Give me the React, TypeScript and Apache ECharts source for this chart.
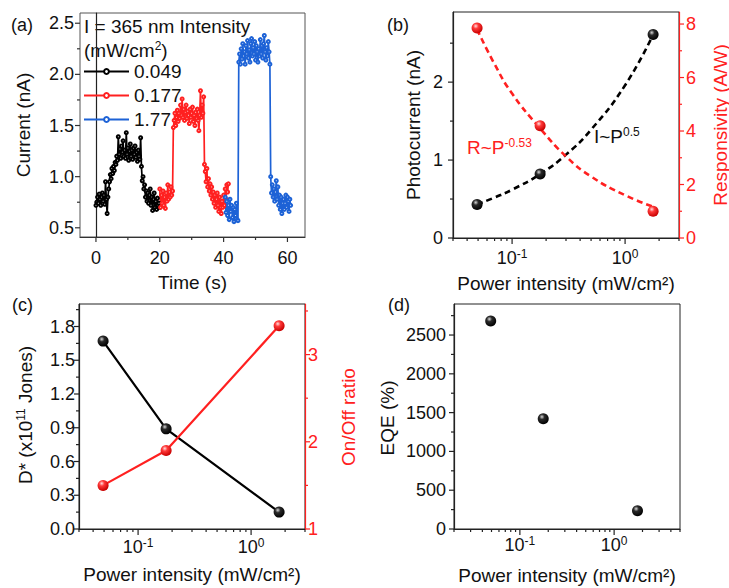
import React, { useEffect, useRef } from 'react';
import * as echarts from 'echarts';

const FONT = 'Liberation Sans, Arial, Helvetica, sans-serif';
const INK = '#111111';
const RED = '#ff2020';
const BLUE = '#1d62d6';

// (a) time traces, sampled every 0.25 s
const sampleStep = 0.25;
const blackStart = 0;
const blackCurrent = [
  0.72, 0.75, 0.80, 0.74, 0.83,
  0.78, 0.72, 0.80, 0.84,
  0.76, 0.82, 0.73, 0.95,
  0.78, 0.64, 0.80, 0.88,
  0.95, 1.02, 0.98, 1.08,
  1.03, 1.10, 1.06, 1.14,
  1.12, 1.20, 1.16, 1.39,
  1.22, 1.27, 1.18, 1.30,
  1.24, 1.35, 1.20, 1.26,
  1.18, 1.43, 1.22, 1.28,
  1.16, 1.25, 1.32, 1.20,
  1.26, 1.17, 1.28, 1.22,
  1.30, 1.19, 1.24, 1.15,
  1.26, 1.20, 1.17, 1.38,
  1.10, 0.96, 1.00, 0.88,
  0.92, 0.80, 0.86, 0.76,
  0.84, 0.74, 0.82, 0.88,
  0.72, 0.80, 0.67, 0.78,
  0.84, 0.70, 0.76, 0.68,
  0.79, 0.72, 0.74, 0.70,
];
const redStart = 20;
const redCurrent = [
  0.88, 0.70, 0.82, 0.74, 0.86,
  0.72, 0.80, 0.69, 0.84,
  0.76, 0.92, 0.78, 0.85,
  0.80, 0.90, 0.82, 0.86,
  1.48, 1.55, 1.62, 1.50,
  1.58, 1.65, 1.54, 1.62,
  1.57, 1.70, 1.60, 1.76,
  1.58, 1.66, 1.55, 1.63,
  1.70, 1.57, 1.64, 1.60,
  1.52, 1.66, 1.58, 1.62,
  1.68, 1.54, 1.60, 1.50,
  1.63, 1.57, 1.66, 1.55,
  1.45, 1.60, 1.84, 1.58,
  1.70, 1.62, 1.78, 1.12,
  1.05, 0.95, 1.08, 0.90,
  0.98, 0.86, 0.93, 0.82,
  0.90, 0.78, 0.85, 0.74,
  0.82, 0.70, 0.78, 0.84,
  0.72, 0.66, 0.80, 0.70,
  0.64, 0.76, 0.70, 0.82,
  0.72, 0.88, 0.78, 0.92,
  0.85, 0.93,
];
const blueStart = 40.5;
const blueCurrent = [
  0.80, 0.65, 0.76, 0.62, 0.72,
  0.58, 0.78, 0.66, 0.72,
  0.60, 0.70, 0.56, 0.68,
  0.62, 0.74, 0.58, 0.57,
  2.12, 2.20, 2.10, 2.25,
  2.15, 2.30, 2.18, 2.22,
  2.10, 2.28, 2.20, 2.33,
  2.16, 2.24, 2.12, 2.30,
  2.35, 2.18, 2.26, 2.20,
  2.32, 2.14, 2.28, 2.22,
  2.12, 2.25, 2.18, 2.34,
  2.20, 2.28, 2.16, 2.30,
  2.38, 2.22, 2.14, 2.26,
  2.18, 2.32, 2.22, 2.10,
  1.00, 0.84, 0.92, 0.80,
  0.88, 0.76, 0.85, 0.96,
  0.78, 0.90, 0.72, 0.82,
  0.68, 0.80, 0.64, 0.74,
  0.78, 0.68, 0.74, 0.82,
  0.70, 0.80, 0.76, 0.66,
  0.78, 0.72,
];
const legendNames = ['0.049', '0.177', '1.77'];

// (b)-(d)
const power = [0.049, 0.177, 1.77];
const photocurrent = [0.43, 0.82, 2.61];
const responsivity = [7.85, 4.2, 1.0];
const fitPower = [0.049, 0.07, 0.1, 0.177, 0.3, 0.5, 1.0, 1.77];
const fitCurrent = [0.43, 0.52, 0.62, 0.82, 1.07, 1.39, 1.96, 2.61];
const fitResponsivity = [7.8, 6.5, 5.4, 4.1, 3.05, 2.3, 1.6, 1.17];
const detectivity = [1.67, 0.89, 0.15];
const onOffRatio = [1.5, 1.9, 3.33];
const eqe = [2680, 1420, 235];

// tick positions
const timeMajor = [0, 20, 40, 60];
const timeMinor = [10, 30, 50];
const currentMajor = [0.5, 1, 1.5, 2, 2.5];
const currentMinor = [0.75, 1.25, 1.75, 2.25];
const logMajor = [0.1, 1];
const logMinorBC = [0.03, 0.04, 0.05, 0.06, 0.07, 0.08, 0.09, 0.2, 0.3, 0.4, 0.5, 0.6, 0.7, 0.8, 0.9, 2, 3];
const logMinorD = [0.02, 0.03, 0.04, 0.05, 0.06, 0.07, 0.08, 0.09, 0.2, 0.3, 0.4, 0.5, 0.6, 0.7, 0.8, 0.9, 2, 3, 4, 5];
const photoMajor = [0, 1, 2];
const photoMinor = [0.5, 1.5, 2.5];
const respMajor = [0, 2, 4, 6, 8];
const respMinor = [1, 3, 5, 7];
const detMajor = [0, 0.3, 0.6, 0.9, 1.2, 1.5, 1.8];
const detMinor = [0.15, 0.45, 0.75, 1.05, 1.35, 1.65, 1.95];
const ratioMajor = [1, 2, 3];
const ratioMinor = [1.5, 2.5, 3.5];
const eqeMajor = [0, 500, 1000, 1500, 2000, 2500];
const eqeMinor = [250, 750, 1250, 1750, 2250, 2750];

// rich-text styles
const richFor = (color: string, size: number) => ({
  n: { fontSize: size, fontFamily: FONT, fill: color },
  sup: { fontSize: 12, fontFamily: FONT, fill: color, padding: [0, 0, 9, 0] },
});

type Side = 'bottom' | 'left' | 'right';
function tickSeries(xi: number, yi: number, side: Side, major: number[], minor: number[], color: string, majorLen = 5) {
  const mk = (v: number, len: number) => (side === 'bottom' ? [v, 1, len] : [1, v, len]);
  const data = [...major.map((v) => mk(v, majorLen)), ...minor.map((v) => mk(v, 3))];
  return {
    type: 'custom',
    xAxisIndex: xi,
    yAxisIndex: yi,
    silent: true,
    clip: false,
    z: 10,
    encode: { x: 0, y: 1 },
    data,
    renderItem: (params: any, api: any) => {
      const cs = params.coordSys;
      const p = api.coord([api.value(0), api.value(1)]);
      const len = api.value(2);
      let shape;
      if (side === 'bottom') {
        const y = cs.y + cs.height;
        shape = { x1: p[0], y1: y, x2: p[0], y2: y + len };
      } else if (side === 'left') {
        shape = { x1: cs.x, y1: p[1], x2: cs.x - len, y2: p[1] };
      } else {
        const x = cs.x + cs.width;
        shape = { x1: x, y1: p[1], x2: x + len, y2: p[1] };
      }
      return { type: 'line', shape, style: { stroke: color, lineWidth: 1.2 } };
    },
  };
}

// power-of-ten labels under a log axis, placed through the axis scale
function logLabelSeries(xi: number, yi: number, values: number[], offset: number) {
  return {
    type: 'custom',
    xAxisIndex: xi,
    yAxisIndex: yi,
    silent: true,
    clip: false,
    z: 10,
    encode: { x: 0, y: 1 },
    data: values.map((v) => [v, 1]),
    renderItem: (params: any, api: any) => {
      const cs = params.coordSys;
      const v = api.value(0);
      const p = api.coord([v, api.value(1)]);
      const exp = Math.round(Math.log10(v));
      return {
        type: 'text',
        x: p[0],
        y: cs.y + cs.height + offset,
        style: {
          text: `{n|10}{sup|${exp}}`,
          rich: richFor(INK, 18),
          fontSize: 18,
          fontFamily: FONT,
          fill: INK,
          align: 'center',
          verticalAlign: 'middle',
        },
      };
    },
  };
}

const isMultiple = (v: number, step: number) => Math.abs(v / step - Math.round(v / step)) < 1e-6;

const sphere = (hi: string, mid: string, edge: string) => ({
  type: 'radial',
  x: 0.38,
  y: 0.32,
  r: 0.68,
  colorStops: [
    { offset: 0, color: hi },
    { offset: 0.35, color: mid },
    { offset: 1, color: edge },
  ],
});
const blackBall = sphere('#d8d8d8', '#2a2a2a', '#000000');
const redBall = sphere('#ffe0e0', '#ff3a3a', '#c80000');

function xAxisLinear(grid: number) {
  return {
    gridIndex: grid,
    type: 'value',
    min: -5,
    max: 65.5,
    splitNumber: 3,
    axisLine: { lineStyle: { color: '#333', width: 1.2 } },
    axisTick: { show: false },
    splitLine: { show: false },
    axisLabel: {
      fontSize: 18,
      color: INK,
      fontFamily: FONT,
      margin: 12,
      formatter: (v: number) => (isMultiple(v, 20) && v >= 0 && v <= 60 ? String(v) : ''),
    },
    name: 'Time (s)',
    nameLocation: 'middle',
    nameGap: 36,
    nameTextStyle: { fontSize: 19, color: INK, fontFamily: FONT },
  };
}

function xAxisLog(grid: number, min: number, max: number, nameGap: number) {
  return {
    gridIndex: grid,
    type: 'log',
    logBase: 10,
    min,
    max,
    axisLine: { lineStyle: { color: '#222', width: 1.2 } },
    axisTick: { show: false },
    splitLine: { show: false },
    minorSplitLine: { show: false },
    axisLabel: { show: false },
    name: 'Power intensity (mW/cm²)',
    nameLocation: 'middle',
    nameGap,
    nameTextStyle: { fontSize: 19, color: INK, fontFamily: FONT },
  };
}

function yAxis(opts: any) {
  const color = opts.color || '#222';
  const textColor = opts.color || INK;
  return {
    gridIndex: opts.grid,
    type: 'value',
    position: opts.position || 'left',
    min: opts.min,
    max: opts.max,
    interval: opts.interval,
    axisLine: { show: true, lineStyle: { color, width: 1.2 } },
    axisTick: { show: false },
    splitLine: { show: false },
    axisLabel: {
      fontSize: 18,
      color: textColor,
      fontFamily: FONT,
      margin: opts.margin,
      formatter: opts.formatter,
    },
  };
}

function trace(name: string, start: number, values: number[], color: string) {
  return {
    name,
    type: 'line',
    xAxisIndex: 0,
    yAxisIndex: 0,
    data: values.map((v, i) => [start + i * sampleStep, v]),
    symbol: 'emptyCircle',
    symbolSize: 3,
    showSymbol: true,
    itemStyle: { color, borderWidth: 1.1 },
    lineStyle: { color, width: 1.7 },
    z: 3,
  };
}

const gtext = (x: number, y: number, text: string, color: string, size = 19, rotated = false) => ({
  type: 'text',
  x,
  y,
  rotation: rotated ? Math.PI / 2 : 0,
  style: {
    text,
    fontSize: size,
    fontFamily: FONT,
    fill: color,
    align: rotated ? 'center' : 'left',
    verticalAlign: 'middle',
    rich: richFor(color, size),
  },
});

export default function App() {
  const ref = useRef<HTMLDivElement>(null);
  useEffect(() => {
    if (!ref.current) return;
    const chart = echarts.init(ref.current, undefined, { renderer: 'svg' });
    const option: any = {
      animation: false,
      backgroundColor: '#ffffff',
      textStyle: { fontFamily: FONT },
      grid: [
        { left: 80, top: 13, width: 225, height: 224, show: true, borderColor: '#555', borderWidth: 1 },
        { left: 453, top: 12, width: 226, height: 226, show: true, borderColor: '#222', borderWidth: 1 },
        { left: 79, top: 304, width: 226, height: 225, show: true, borderColor: '#222', borderWidth: 1 },
        { left: 454, top: 304, width: 226, height: 225, show: true, borderColor: '#222', borderWidth: 1 },
      ],
      xAxis: [
        xAxisLinear(0),
        xAxisLog(1, 0.03, 3, 36),
        xAxisLog(2, 0.03, 3, 36),
        xAxisLog(3, 0.02, 5, 37),
      ],
      yAxis: [
        yAxis({ grid: 0, min: 0.41, max: 2.6, margin: 6,
          formatter: (v: number) => (isMultiple(v, 0.5) ? v.toFixed(1) : '') }),
        yAxis({ grid: 1, min: 0, max: 2.9, interval: 1, margin: 10,
          formatter: (v: number) => (isMultiple(v, 1) && v <= 2 ? String(v) : '') }),
        yAxis({ grid: 1, position: 'right', color: RED, min: 0, max: 8.45, interval: 2, margin: 7,
          formatter: (v: number) => (isMultiple(v, 2) && v <= 8 ? String(v) : '') }),
        yAxis({ grid: 2, min: 0, max: 2.0, interval: 0.3, margin: 4,
          formatter: (v: number) => (isMultiple(v, 0.3) && v <= 1.85 ? v.toFixed(1) : '') }),
        yAxis({ grid: 2, position: 'right', color: RED, min: 1, max: 3.58, interval: 1, margin: 3,
          formatter: (v: number) => (isMultiple(v, 1) && v <= 3 ? String(v) : '') }),
        yAxis({ grid: 3, min: 0, max: 2900, interval: 500, margin: 8,
          formatter: (v: number) => (isMultiple(v, 500) && v <= 2500 ? String(v) : '') }),
      ],
      legend: {
        data: legendNames,
        orient: 'vertical',
        left: 83,
        top: 62,
        padding: 0,
        itemWidth: 45,
        itemHeight: 6,
        itemGap: 5,
        textStyle: { fontSize: 19, color: INK, fontFamily: FONT },
      },
      graphic: [
        gtext(11, 25, '{n|(a)}', INK, 18),
        gtext(387, 25, '{n|(b)}', INK, 18),
        gtext(12, 305, '{n|(c)}', INK, 18),
        gtext(388, 305, '{n|(d)}', INK, 18),
        gtext(84, 26, '{n|I = 365 nm Intensity}', INK),
        gtext(84, 50, '{n|(mW/cm}{sup|2}{n|)}', INK),
        gtext(467, 147, '{n|R~P}{sup|-0.53}', RED),
        gtext(594, 136, '{n|I~P}{sup|0.5}', INK),
        // y-axis titles
        gtext(23, 125, '{n|Current (nA)}', INK, 19, true),
        gtext(413, 125, '{n|Photocurrent (nA)}', INK, 19, true),
        gtext(720, 125, '{n|Responsivity (A/W)}', RED, 19, true),
        gtext(25, 415, '{n|D* (x10}{sup|11}{n| Jones)}', INK, 19, true),
        gtext(348, 417, '{n|On/Off ratio}', RED, 19, true),
        gtext(387, 418, '{n|EQE (%)}', INK, 19, true),
      ],
      series: [
        trace(legendNames[0], blackStart, blackCurrent, '#000000'),
        trace(legendNames[1], redStart, redCurrent, RED),
        trace(legendNames[2], blueStart, blueCurrent, BLUE),
        // (b) fits
        {
          type: 'line', xAxisIndex: 1, yAxisIndex: 1, smooth: true, showSymbol: false, symbol: 'none',
          data: fitPower.map((p, i) => [p, fitCurrent[i]]),
          lineStyle: { color: '#000', width: 2.6, type: [6, 4] }, z: 2,
        },
        {
          type: 'line', xAxisIndex: 1, yAxisIndex: 2, smooth: true, showSymbol: false, symbol: 'none',
          data: fitPower.map((p, i) => [p, fitResponsivity[i]]),
          lineStyle: { color: RED, width: 2.6, type: [6, 4] }, z: 2,
        },
        {
          type: 'scatter', xAxisIndex: 1, yAxisIndex: 1, symbolSize: 11,
          data: power.map((p, i) => [p, photocurrent[i]]),
          itemStyle: { color: blackBall, opacity: 1 }, z: 4,
        },
        {
          type: 'scatter', xAxisIndex: 1, yAxisIndex: 2, symbolSize: 11,
          data: power.map((p, i) => [p, responsivity[i]]),
          itemStyle: { color: redBall, opacity: 1 }, z: 4,
        },
        // (c)
        {
          type: 'line', xAxisIndex: 2, yAxisIndex: 3, symbol: 'circle', symbolSize: 11,
          data: power.map((p, i) => [p, detectivity[i]]),
          lineStyle: { color: '#000', width: 2.2 }, itemStyle: { color: blackBall }, z: 3,
        },
        {
          type: 'line', xAxisIndex: 2, yAxisIndex: 4, symbol: 'circle', symbolSize: 11,
          data: power.map((p, i) => [p, onOffRatio[i]]),
          lineStyle: { color: RED, width: 2.2 }, itemStyle: { color: redBall }, z: 3,
        },
        // (d)
        {
          type: 'scatter', xAxisIndex: 3, yAxisIndex: 5, symbolSize: 11,
          data: power.map((p, i) => [p, eqe[i]]),
          itemStyle: { color: blackBall, opacity: 1 }, z: 4,
        },
        // ticks
        tickSeries(0, 0, 'bottom', timeMajor, timeMinor, '#333'),
        tickSeries(0, 0, 'left', currentMajor, currentMinor, '#333'),
        tickSeries(1, 1, 'bottom', logMajor, logMinorBC, '#222', 6),
        tickSeries(1, 1, 'left', photoMajor, photoMinor, '#222'),
        tickSeries(1, 2, 'right', respMajor, respMinor, RED),
        tickSeries(2, 3, 'bottom', logMajor, logMinorBC, '#222', 6),
        tickSeries(2, 3, 'left', detMajor, detMinor, '#222'),
        tickSeries(2, 4, 'right', ratioMajor, ratioMinor, RED),
        tickSeries(3, 5, 'bottom', logMajor, logMinorD, '#222', 6),
        tickSeries(3, 5, 'left', eqeMajor, eqeMinor, '#222'),
        // log-axis labels
        logLabelSeries(1, 1, logMajor, 20),
        logLabelSeries(2, 3, logMajor, 18),
        logLabelSeries(3, 5, logMajor, 16),
      ],
    };
    chart.setOption(option);
    return () => chart.dispose();
  }, []);
  return (
    <div
      ref={ref}
      style={{ position: 'fixed', left: 0, top: 0, width: 729, height: 588, background: '#fff' }}
    />
  );
}
